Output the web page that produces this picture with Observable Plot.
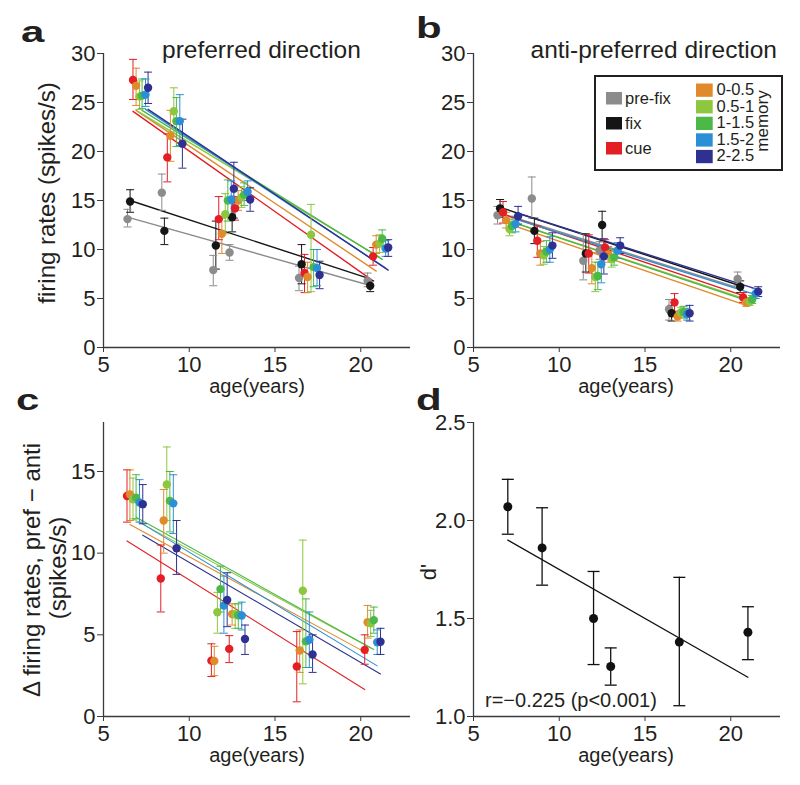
<!DOCTYPE html>
<html><head><meta charset="utf-8">
<script src="https://cdn.jsdelivr.net/npm/d3@7"></script>
<script src="https://cdn.jsdelivr.net/npm/@observablehq/plot@0.6"></script>
<style>
body{margin:0;background:#fff;}
#fig{position:relative;width:800px;height:785px;overflow:hidden;}
#fig svg{position:absolute;}
</style></head><body><div id="fig"></div>
<script>
const FONT = "'Liberation Sans', Arial, Helvetica, sans-serif";
const INK = "#231f20";

// ---------- categories ----------
const series = ["pre-fix","fix","cue","0-0.5","0.5-1","1-1.5","1.5-2","2-2.5"];
const colors = ["#8c8c8c","#151515","#e31e24","#e08a2c","#8dc63f","#4cb848","#2b8fd6","#2e3192"];
const xTicks = [5, 10, 15, 20];

// ---------- panels a & b: age groups and per-epoch dodge ----------
const agesAB = [6.55, 8.55, 11.55, 12.5, 16.55, 20.55];
const dodgeAB = [-0.15, 0, 0.17, 0.35, 0.55, 0.7, 0.9, 1.05];

// panel a: preferred direction (mean, lower, upper)
const prefMean = [
  [13.1, 15.8, 7.9, 9.7, 7.1, 6.8],
  [14.9, 11.9, 10.4, 13.3, 8.5, 6.3],
  [27.3, 19.4, 13.1, 14.2, 7.6, 9.3],
  [26.7, 21.6, 11.6, 15.0, 7.2, 10.5],
  [25.6, 24.1, 13.6, 15.3, 11.5, 10.6],
  [25.7, 23.1, 15.0, 15.6, 8.2, 11.1],
  [25.8, 23.1, 15.1, 15.9, 8.1, 10.1],
  [26.5, 20.8, 16.2, 15.1, 7.4, 10.2]];
const prefLo = [
  [12.3, 14.0, 6.3, 8.9, 5.8, 6.2],
  [13.8, 10.5, 8.0, 11.8, 6.5, 5.7],
  [25.3, 16.9, 11.0, 13.0, 5.6, 8.4],
  [24.7, 19.0, 9.6, 14.0, 5.6, 9.6],
  [24.3, 22.0, 11.6, 14.3, 5.7, 9.7],
  [24.4, 20.5, 12.9, 14.5, 6.2, 10.3],
  [24.6, 20.6, 13.3, 15.0, 6.3, 9.3],
  [24.9, 18.3, 13.2, 13.9, 6.0, 9.3]];
const prefHi = [
  [14.1, 17.7, 9.4, 10.5, 8.3, 7.6],
  [16.1, 13.2, 12.9, 14.8, 10.5, 6.8],
  [29.4, 21.8, 15.4, 15.4, 9.5, 10.2],
  [28.5, 24.2, 13.2, 16.0, 8.7, 11.4],
  [27.2, 26.5, 15.7, 16.4, 14.6, 11.5],
  [27.4, 25.5, 17.1, 16.8, 10.0, 12.0],
  [27.4, 25.8, 17.0, 17.0, 10.0, 10.9],
  [28.1, 23.3, 18.9, 16.3, 8.8, 11.0]];
// regression fit values at first and last age group
const prefFitStart = [13.3, 15.0, 24.1, 24.2, 24.0, 24.2, 24.3, 24.3];
const prefFitEnd   = [6.4, 7.0, 6.8, 7.8, 9.2, 9.0, 8.1, 7.9];

// panel b: anti-preferred direction
const antiMean = [
  [13.5, 15.2, 8.85, 9.9, 3.9, 7.0],
  [14.2, 11.9, 9.6, 12.5, 3.5, 6.2],
  [13.8, 10.9, 9.6, 10.2, 4.6, 5.1],
  [13.0, 9.6, 8.1, 9.5, 3.15, 4.6],
  [12.1, 9.4, 7.2, 9.0, 3.6, 4.7],
  [12.4, 9.8, 7.3, 9.2, 3.6, 4.9],
  [12.6, 10.0, 8.5, 9.9, 3.4, 5.5],
  [13.4, 10.4, 9.3, 10.4, 3.5, 5.7]];
const antiLo = [
  [12.6, 13.2, 6.9, 9.0, 2.8, 6.3],
  [13.3, 10.6, 7.7, 10.8, 2.7, 5.6],
  [12.7, 9.2, 7.6, 9.4, 3.7, 4.6],
  [12.2, 8.4, 6.5, 8.7, 2.7, 4.2],
  [11.4, 8.5, 5.7, 8.2, 3.1, 4.3],
  [11.7, 8.7, 5.9, 8.4, 3.0, 4.5],
  [11.8, 8.7, 6.6, 9.1, 2.8, 5.0],
  [12.6, 9.1, 7.5, 9.6, 2.7, 5.2]];
const antiHi = [
  [14.4, 17.4, 11.6, 10.8, 4.9, 7.7],
  [15.1, 13.2, 11.6, 13.9, 4.3, 6.8],
  [14.9, 12.4, 11.5, 11.0, 5.5, 5.6],
  [13.8, 10.8, 9.7, 10.3, 3.6, 5.0],
  [12.8, 10.3, 8.7, 9.8, 4.1, 5.1],
  [13.1, 10.9, 8.7, 10.0, 4.2, 5.3],
  [13.4, 11.3, 10.4, 10.7, 4.0, 6.0],
  [14.4, 11.7, 11.1, 11.2, 4.3, 6.2]];
const antiFitStart = [13.8, 14.3, 13.6, 12.7, 12.9, 12.8, 13.1, 13.7];
const antiFitEnd   = [6.1, 6.3, 5.3, 4.3, 4.8, 4.6, 5.4, 5.9];

// ---------- panel c: pref - anti (cue + memory epochs) ----------
const agesC = [6.37, 8.34, 11.29, 12.33, 16.27, 20.23];
const dodgeC = [0, 0.17, 0.35, 0.53, 0.73, 0.92];
const diffMean = [
  [13.5, 8.45, 3.42, 4.14, 3.06, 4.08],
  [13.6, 12.0, 3.4, 6.27, 4.04, 5.77],
  [13.3, 14.2, 6.38, 6.25, 7.7, 5.7],
  [13.4, 13.2, 7.8, 6.2, 4.6, 5.9],
  [13.1, 13.05, 6.8, 6.18, 4.7, 4.55],
  [13.0, 10.3, 7.13, 4.75, 3.8, 4.58]];
const diffLo = [
  [11.9, 6.4, 2.45, 3.3, 0.9, 3.2],
  [12.0, 10.0, 2.5, 5.6, 2.7, 4.8],
  [12.1, 12.0, 5.1, 5.4, 2.0, 4.9],
  [12.1, 11.3, 6.4, 5.4, 3.0, 5.1],
  [11.9, 11.2, 5.1, 5.3, 3.0, 3.8],
  [11.8, 8.7, 5.5, 3.8, 2.7, 3.8]];
const diffHi = [
  [15.1, 10.5, 4.45, 4.95, 5.2, 5.0],
  [15.1, 13.9, 4.3, 6.9, 5.3, 6.8],
  [14.6, 16.5, 7.6, 6.9, 10.8, 6.5],
  [14.8, 15.0, 9.2, 6.9, 7.2, 6.7],
  [14.5, 14.8, 8.6, 7.0, 6.4, 5.3],
  [14.2, 12.0, 8.8, 5.6, 5.0, 5.4]];
const diffFitStart = [10.75, 11.75, 12.1, 12.2, 11.9, 11.1];
const diffFitEnd   = [1.65, 3.85, 4.2, 4.1, 3.1, 2.6];

// ---------- panel d: d' ----------
const dAges = [7, 9, 12, 13, 17, 21];
const dPrime = [2.07, 1.86, 1.50, 1.255, 1.38, 1.43];
const dLo = [1.93, 1.67, 1.265, 1.16, 1.055, 1.29];
const dHi = [2.21, 2.065, 1.74, 1.35, 1.71, 1.56];
const dFit = [1.90, 1.20];

// ---------- helpers ----------
const cap = {draw(ctx, size) { const w = Math.sqrt(size / Math.PI); ctx.moveTo(-w, 0); ctx.lineTo(w, 0); }};

function buildRows(names, ages, dodge, mean, lo, hi) {
  return names.flatMap((s, i) => ages.map((a, j) => ({s, x: a + dodge[i], y: mean[i][j], lo: lo[i][j], hi: hi[i][j]})));
}
function buildFits(names, ages, dodge, start, end) {
  return names.flatMap((s, i) => [
    {s, x: ages[0] + dodge[i], y: start[i]},
    {s, x: ages[ages.length - 1] + dodge[i], y: end[i]}]);
}

function panel(o) {
  return Plot.plot({
    width: o.width, height: 395,
    marginLeft: o.ml, marginRight: o.mr, marginTop: 32 + o.mtExtra, marginBottom: o.mb,
    x: {domain: [5, 22.9]},
    y: {domain: o.yDomain},
    color: {domain: o.names, range: o.cols},
    style: {background: "none", fontSize: "22px", fontFamily: FONT, color: INK, overflow: "visible"},
    marks: [
      Plot.axisX({ticks: xTicks, tickSize: 5, tickPadding: 4, label: null, stroke: "#3a3a3a", fill: INK}),
      Plot.axisY({ticks: o.yTicks, tickSize: 6, tickPadding: 2, label: null, stroke: "#3a3a3a", fill: INK, tickFormat: o.fmt}),
      Plot.ruleX([5], {stroke: "#3a3a3a", strokeWidth: 1.3}),
      Plot.ruleY([o.yDomain[0]], {stroke: "#3a3a3a", strokeWidth: 1.3}),
      Plot.line(o.fits, {x: "x", y: "y", z: "s", stroke: "s", strokeWidth: o.lineW}),
      Plot.ruleX(o.rows, {x: "x", y1: "lo", y2: "hi", stroke: "s", strokeWidth: o.barW}),
      Plot.dot(o.rows, {x: "x", y: "lo", symbol: cap, r: o.capR, stroke: "s", fill: "none", strokeWidth: o.barW}),
      Plot.dot(o.rows, {x: "x", y: "hi", symbol: cap, r: o.capR, stroke: "s", fill: "none", strokeWidth: o.barW}),
      Plot.dot(o.rows, {x: "x", y: "y", fill: "s", r: o.dotR})
    ]
  });
}

const fig = document.getElementById("fig");
function place(svg, left, top) { svg.style.left = left + "px"; svg.style.top = top + "px"; fig.appendChild(svg); }

// panel a
place(panel({
  width: 420, ml: 103, mr: 10, mtExtra: 21, mb: 48,
  yDomain: [0, 30], yTicks: [0, 5, 10, 15, 20, 25, 30],
  names: series, cols: colors,
  rows: buildRows(series, agesAB, dodgeAB, prefMean, prefLo, prefHi),
  fits: buildFits(series, agesAB, dodgeAB, prefFitStart, prefFitEnd),
  lineW: 1.4, barW: 1, capR: 4, dotR: 4.2
}), 0, 0);

// panel b
place(panel({
  width: 400, ml: 73, mr: 20, mtExtra: 21, mb: 48,
  yDomain: [0, 30], yTicks: [0, 5, 10, 15, 20, 25, 30],
  names: series, cols: colors,
  rows: buildRows(series, agesAB, dodgeAB, antiMean, antiLo, antiHi),
  fits: buildFits(series, agesAB, dodgeAB, antiFitStart, antiFitEnd),
  lineW: 1.4, barW: 1, capR: 4, dotR: 4.2
}), 400, 0);

// panel c
const cNames = series.slice(2), cCols = colors.slice(2);
place(panel({
  width: 420, ml: 103, mr: 10, mtExtra: 0, mb: 69,
  yDomain: [0, 18], yTicks: [0, 5, 10, 15],
  names: cNames, cols: cCols,
  rows: buildRows(cNames, agesC, dodgeC, diffMean, diffLo, diffHi),
  fits: buildFits(cNames, agesC, dodgeC, diffFitStart, diffFitEnd),
  lineW: 1.1, barW: 1, capR: 4, dotR: 4.2
}), 0, 390);

// panel d
place(panel({
  width: 400, ml: 73, mr: 20, mtExtra: 0, mb: 69,
  yDomain: [1.0, 2.5], yTicks: [1.0, 1.5, 2.0, 2.5], fmt: d3.format(".1f"),
  names: ["d'"], cols: ["#111111"],
  rows: dAges.map((a, i) => ({s: "d'", x: a, y: dPrime[i], lo: dLo[i], hi: dHi[i]})),
  fits: [{s: "d'", x: dAges[0], y: dFit[0]}, {s: "d'", x: dAges[dAges.length - 1], y: dFit[1]}],
  lineW: 1.3, barW: 1.3, capR: 6, dotR: 4.5
}), 400, 390);

// ---------- text overlay and legend ----------
const ov = d3.select(fig).append("svg").attr("width", 800).attr("height", 785)
  .style("left", "0px").style("top", "0px").style("pointer-events", "none")
  .attr("font-family", FONT).attr("fill", INK);

function txt(s, x, y, size, opt = {}) {
  const t = ov.append("text").text(s).attr("font-size", size)
    .attr("text-anchor", opt.anchor || "start")
    .attr("transform", `translate(${x},${y})` + (opt.rot ? ` rotate(${opt.rot})` : "") + (opt.sx ? ` scale(${opt.sx},1)` : ""));
  if (opt.bold) t.attr("font-weight", "bold");
  return t;
}

// panel letters
txt("a", 21, 42, 30, {bold: true, sx: 1.4});
txt("b", 416, 38, 30, {bold: true, sx: 1.4});
txt("c", 16, 410, 30, {bold: true, sx: 1.4});
txt("d", 416, 410, 30, {bold: true, sx: 1.4});

// titles
txt("preferred direction", 162, 58, 24.5);
txt("anti-preferred direction", 777, 58, 24.5, {anchor: "end"});

// axis labels
txt("age(years)", 257, 393, 20, {anchor: "middle"});
txt("age(years)", 626, 393, 20, {anchor: "middle"});
txt("age(years)", 257, 762, 20, {anchor: "middle"});
txt("age(years)", 626, 762, 20, {anchor: "middle"});
txt("firing rates (spikes/s)", 55, 193, 24, {anchor: "middle", rot: -90});
txt("\u0394 firing rates, pref \u2212 anti", 40, 570, 24, {anchor: "middle", rot: -90});
txt("(spikes/s)", 66, 568, 24, {anchor: "middle", rot: -90});
txt("d'", 436, 572, 22, {anchor: "middle", rot: -90});
txt("r=\u22120.225 (p<0.001)", 485, 707, 20);

// legend
ov.append("rect").attr("x", 595).attr("y", 76).attr("width", 187).attr("height", 94)
  .attr("fill", "#fff").attr("stroke", INK).attr("stroke-width", 2);
const leftItems = [0, 1, 2];
leftItems.forEach((i, k) => {
  ov.append("rect").attr("x", 606).attr("y", 92 + k * 25).attr("width", 16).attr("height", 12.5).attr("fill", colors[i]);
  txt(series[i], 625, 103.5 + k * 25, 16.5);
});
const memItems = [3, 4, 5, 6, 7];
memItems.forEach((i, k) => {
  ov.append("rect").attr("x", 696).attr("y", 83.5 + k * 16.6).attr("width", 16.7).attr("height", 13.3).attr("fill", colors[i]);
  txt(series[i], 716.5, 95 + k * 16.6, 16.5);
});
txt("memory", 768, 121, 17, {anchor: "middle", rot: -90});
</script></body></html>
